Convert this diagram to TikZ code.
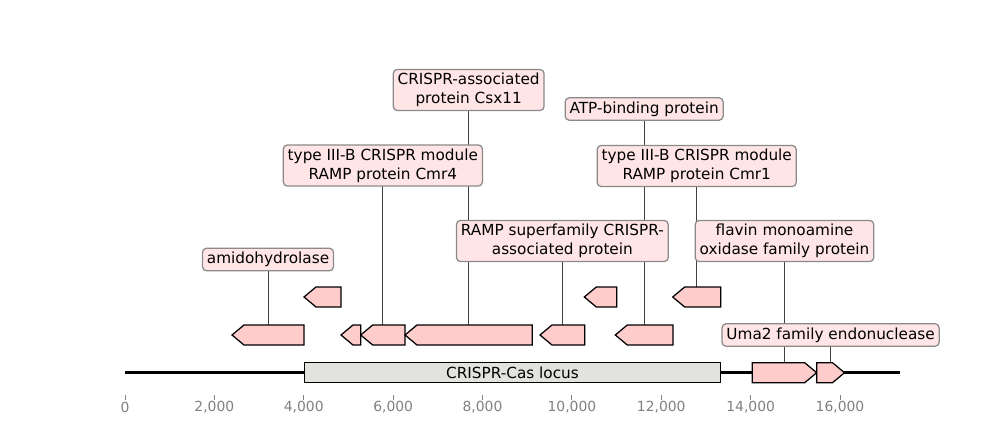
\documentclass[tikz,border=0pt]{standalone}
\usepackage{fontspec}
\setmainfont{DejaVu Sans}
\usetikzlibrary{backgrounds}
\definecolor{genefill}{HTML}{FFCCCC}
\definecolor{labfill}{HTML}{FFE5E5}
\definecolor{labedge}{HTML}{8A8A8A}
\definecolor{locusfill}{HTML}{E2E2DE}
\definecolor{tickgray}{HTML}{808080}
\tikzset{
  gene/.style={draw=black, fill=genefill, line width=0.9pt, line join=miter},
  lab/.style={draw=labedge, fill=labfill, rounded corners=3pt, line width=0.9pt, align=center,
    font=\fontsize{11}{13.4}\selectfont, inner xsep=3.2pt, inner ysep=2.8pt},
  locus/.style={draw=black, fill=locusfill, line width=0.9pt, font=\fontsize{11}{13.4}\selectfont,
    inner sep=0pt},
  lead/.style={draw=black!75, line width=0.55pt},
  axisline/.style={line width=1.6pt},
  tck/.style={draw=tickgray, line width=0.6pt},
  tcklbl/.style={text=tickgray, font=\fontsize{10}{12}\selectfont, inner sep=0pt},
}
% gene arrow: name, start, end, top, direction (l/r); head 12px, height 20px
\newcommand{\gene}[5]{%
  \ifx l#5
    \draw[gene] (#2,#4+10) -- (#2+12,#4) -- (#3,#4) -- (#3,#4+20) -- (#2+12,#4+20) -- cycle;
  \else
    \draw[gene] (#2,#4) -- (#3-12,#4) -- (#3,#4+10) -- (#3-12,#4+20) -- (#2,#4+20) -- cycle;
  \fi
  \coordinate (#1) at ({(#2+#3)/2},#4);
}
\begin{document}
\begin{tikzpicture}[x=0.72pt, y=-0.72pt]
  \useasboundingbox (0,0) rectangle (1000,440);
  % backbone and locus
  \draw[axisline] (125,372.5) -- (900,372.5);
  \node[locus, minimum width=416.5*0.72pt, minimum height=19.6*0.72pt] (locus) at (512.5,372.5) {CRISPR-Cas locus};
  % genes
  \gene{amido}{232}{304}{325}{l}
  \gene{g2}{304}{341}{287}{l}
  \gene{g3}{341}{360.7}{325}{l}
  \gene{cmrfour}{360.7}{405}{325}{l}
  \gene{csx}{405}{532.3}{325}{l}
  \gene{ramp}{540}{584.7}{325}{l}
  \gene{g7}{584.3}{616.7}{287}{l}
  \gene{atp}{615.3}{673}{325}{l}
  \gene{cmrone}{672.7}{720.7}{287}{l}
  \gene{flavin}{752.3}{816.7}{362.7}{r}
  \gene{uma}{816.7}{844.5}{362.7}{r}
  % labels
  \node[lab] (amidoL) at (amido |- 0,259.5) {amidohydrolase};
  \node[lab] (csxL) at (csx |- 0,90) {CRISPR-associated\\protein Csx11};
  \node[lab] (cmrfourL) at (cmrfour |- 0,165.5) {type III-B CRISPR module\\RAMP protein Cmr4};
  \node[lab] (rampL) at (ramp |- 0,241) {RAMP superfamily CRISPR-\\associated protein};
  \node[lab] (atpL) at (atp |- 0,109) {ATP-binding protein};
  \node[lab] (cmroneL) at (cmrone |- 0,166) {type III-B CRISPR module\\RAMP protein Cmr1};
  \node[lab] (flavinL) at (flavin |- 0,241) {flavin monoamine\\oxidase family protein};
  \node[lab] (umaL) at (uma |- 0,335) {Uma2 family endonuclease};
  \begin{scope}[on background layer]
    \foreach \g in {amido,csx,cmrfour,ramp,atp,cmrone,flavin,uma}
      \draw[lead] (\g L.center) -- (\g);
  \end{scope}
  % axis ticks
  \foreach \k [evaluate=\k as \px using 125+89.375*\k] in {0,...,8} {
    \draw[tck] (\px,395) -- (\px,399.5);
    \node[tcklbl] (t\k) at (\px,407.5) {\pgfmathparse{int(2000*\k)}\ifnum\pgfmathresult=0 0\else\pgfmathparse{int(2*\k)}\pgfmathresult,000\fi};
  }
\end{tikzpicture}
\end{document}
